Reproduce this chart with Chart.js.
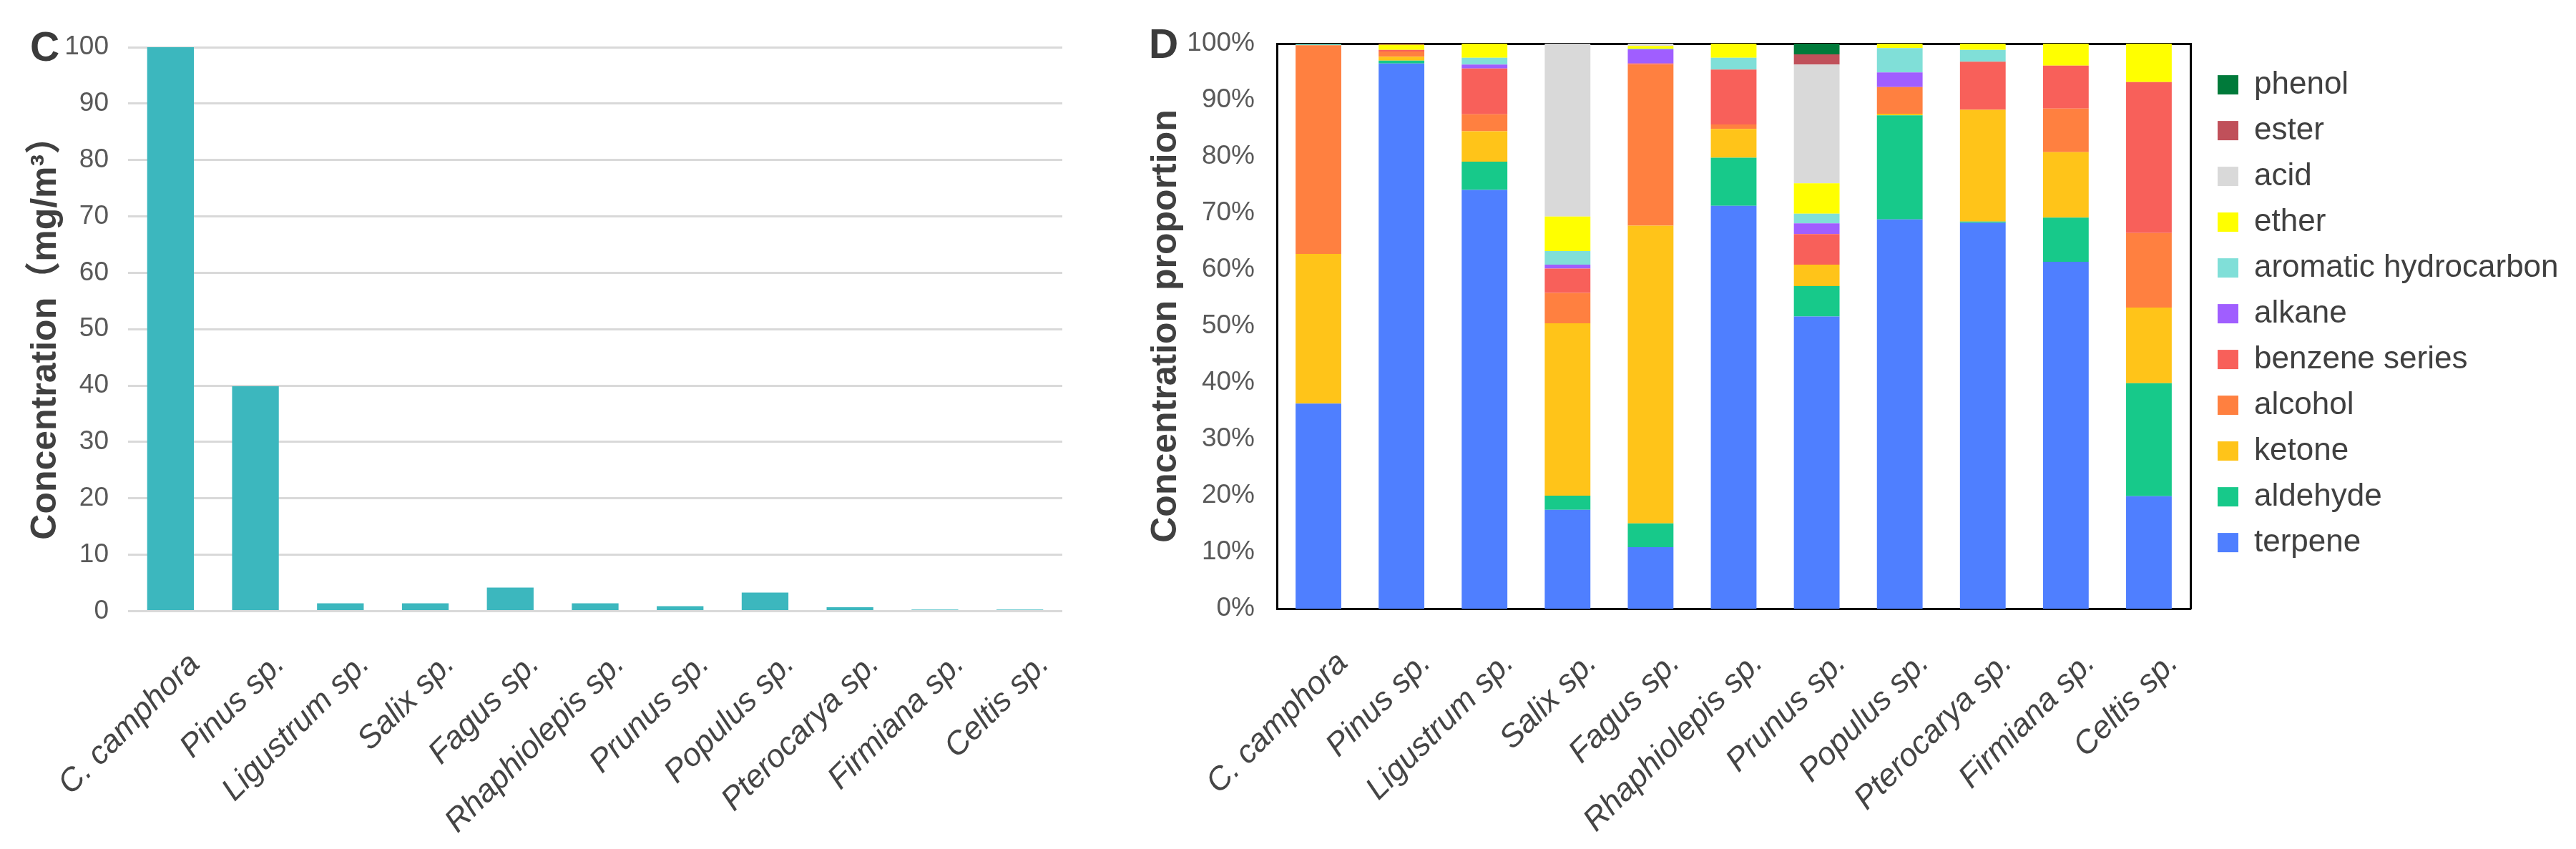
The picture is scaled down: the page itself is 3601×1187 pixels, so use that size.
<!DOCTYPE html>
<html><head><meta charset="utf-8">
<script src="https://cdn.jsdelivr.net/npm/chart.js@4.4.0/dist/chart.umd.min.js"></script>
<style>
html,body{margin:0;padding:0;background:#fff;}
#wrap{position:relative;width:3601px;height:1187px;overflow:hidden;background:#fff;}
#boxC{position:absolute;left:0;top:0;width:1560px;height:1187px;}
#boxD{position:absolute;left:1560px;top:0;width:2041px;height:1187px;}
.panel{position:absolute;font-family:'Liberation Sans',Arial,sans-serif;font-weight:bold;font-size:57px;line-height:1;color:#3b3b3b;}
</style></head><body>
<div id="wrap">
<div id="boxC"><canvas id="cC"></canvas></div>
<div id="boxD"><canvas id="cD"></canvas></div>
<div class="panel" style="left:42px;top:37px">C</div>
<div class="panel" style="left:1606px;top:33px">D</div>
</div>
<script>
// ---- data ----
const species = ['C. camphora','Pinus sp.','Ligustrum sp.','Salix sp.','Fagus sp.','Rhaphiolepis sp.','Prunus sp.','Populus sp.','Pterocarya sp.','Firmiana sp.','Celtis sp.'];
const concentration = [100, 39.9, 1.4, 1.4, 4.2, 1.4, 0.9, 3.3, 0.7, 0.3, 0.3];

const terpene   = [36.3, 96.5, 74.1, 17.5, 10.9, 71.3, 51.7, 68.9, 68.3, 61.4, 19.9];
const aldehyde  = [0,    0.5,  5.0,  2.5,  4.2,  8.5,  5.4,  18.4, 0.2,  7.8,  20.0];
const ketone    = [26.5, 0.7,  5.4,  30.5, 52.7, 5.1,  3.8,  0.3,  19.8, 11.6, 13.4];
const alcohol   = [36.9, 0.9,  3.0,  5.4,  28.5, 0.8,  0,    4.7,  0,    7.7,  13.2];
const benzene   = [0,    0.3,  8.1,  4.3,  0.2,  9.7,  5.4,  0,    8.5,  7.6,  26.7];
const alkane    = [0,    0,    0.7,  0.7,  2.5,  0,    1.9,  2.6,  0,    0,    0];
const aromatic  = [0.2,  0,    1.2,  2.4,  0.1,  2.1,  1.7,  4.3,  2.1,  0,    0];
const ether     = [0,    0.9,  2.5,  6.1,  0.5,  2.5,  5.4,  0.8,  1.1,  3.9,  6.8];
const acid      = [0,    0,    0,    30.6, 0.4,  0,    21.0, 0,    0,    0,    0];
const ester     = [0,    0.2,  0,    0,    0,    0,    1.8,  0,    0,    0,    0];
const phenol    = [0.1,  0,    0,    0,    0,    0,    1.9,  0,    0,    0,    0];

const seriesNames  = ['terpene','aldehyde','ketone','alcohol','benzene series','alkane','aromatic hydrocarbon','ether','acid','ester','phenol'];
const seriesValues = [terpene, aldehyde, ketone, alcohol, benzene, alkane, aromatic, ether, acid, ester, phenol];
const seriesColors = ['#4F7FFF','#17C98A','#FFC419','#FF8040','#F8605A','#A05EFF','#80DFD8','#FFFF00','#D9D9D9','#C0505A','#007A3A'];
const percentTicks = [0,10,20,30,40,50,60,70,80,90,100];

// ---- setup ----
Chart.defaults.font.family = "'Liberation Sans', 'Noto Sans CJK SC', Arial, sans-serif";
Chart.defaults.animation = false;

new Chart(document.getElementById('cC'), {
  type: 'bar',
  data: { labels: species, datasets: [{ data: concentration, backgroundColor: '#3CB7BE', barPercentage: 0.55, categoryPercentage: 1.0 }] },
  options: {
    responsive: true, maintainAspectRatio: false, devicePixelRatio: 1,
    layout: { padding: { left: 0, right: 75, top: 66, bottom: 0 } },
    plugins: { legend: { display: false }, tooltip: { enabled: false } },
    scales: {
      x: {
        grid: { display: false }, border: { display: false },
        ticks: { autoSkip: false, minRotation: 45, maxRotation: 45, color: '#454545', font: { size: 45, style: 'italic' }, padding: 40, labelOffset: 34 },
        afterFit: (s) => { s.height = 332.5; }
      },
      y: {
        min: 0, max: 100,
        ticks: { stepSize: 10, color: '#595959', font: { size: 37 }, padding: 27 },
        grid: { color: '#d9d9d9', lineWidth: 3, drawTicks: false },
        border: { display: false },
        title: { display: true, text: 'Concentration（mg/m³）', color: '#404040', font: { size: 50, weight: 'bold' }, padding: { top: 34, bottom: 0 } },
        afterFit: (s) => { s.width = 179; }
      }
    }
  }
});

new Chart(document.getElementById('cD'), {
  type: 'bar',
  data: {
    labels: species,
    datasets: seriesNames.map((n, i) => ({ label: n, data: seriesValues[i], backgroundColor: seriesColors[i], borderWidth: 0, barPercentage: 0.55, categoryPercentage: 1.0 }))
  },
  options: {
    responsive: true, maintainAspectRatio: false, devicePixelRatio: 1,
    layout: { padding: { left: 0, right: 24, top: 61, bottom: 0 } },
    plugins: {
      tooltip: { enabled: false },
      legend: {
        position: 'right', fullSize: false, align: 'start', reverse: true, maxWidth: 497,
        title: { display: true, text: ' ', font: { size: 13 }, padding: 0 },
        labels: { boxWidth: 29, boxHeight: 27, padding: 20, color: '#404040', font: { size: 44 } }
      }
    },
    scales: {
      x: {
        stacked: true,
        grid: { display: false }, border: { color: '#000', width: 3 },
        ticks: { autoSkip: false, minRotation: 45, maxRotation: 45, color: '#454545', font: { size: 45, style: 'italic' }, padding: 42, labelOffset: 34 },
        afterFit: (s) => { s.height = 336; }
      },
      y: {
        stacked: true, min: 0, max: 100,
        afterBuildTicks: (s) => { s.ticks = percentTicks.map(v => ({ value: v })); },
        ticks: { color: '#595959', font: { size: 37 }, padding: 31, callback: (v) => v + '%' },
        grid: { display: false, drawTicks: false },
        border: { color: '#000', width: 3 },
        title: { display: true, text: 'Concentration proportion', color: '#404040', font: { size: 50, weight: 'bold' }, padding: { top: 40, bottom: 0 } },
        afterFit: (s) => { s.width = 225; }
      },
      xTop: {
        type: 'linear', position: 'top', display: true,
        grid: { display: false, drawTicks: false }, ticks: { display: false },
        border: { color: '#000', width: 3 },
        afterFit: (s) => { s.height = 0; }
      },
      yRight: {
        type: 'linear', position: 'right', display: true,
        grid: { display: false, drawTicks: false }, ticks: { display: false },
        border: { color: '#000', width: 3 },
        afterFit: (s) => { s.width = 18; }
      }
    }
  }
});
</script>
</body></html>
